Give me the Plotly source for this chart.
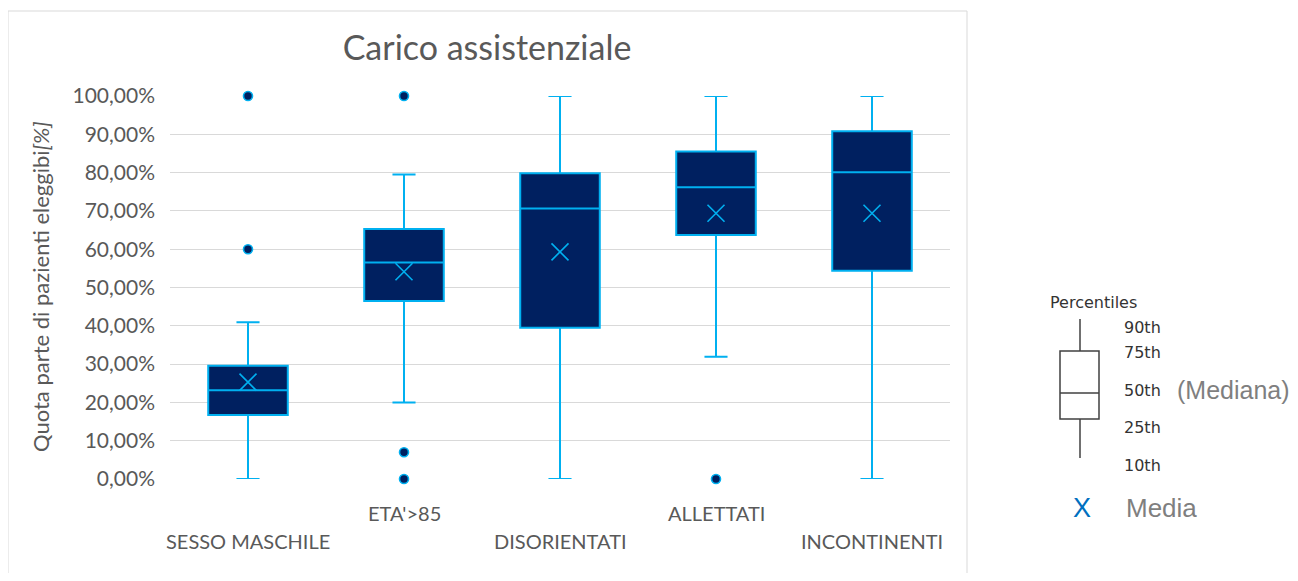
import plotly.graph_objects as go

# ---------------- data ----------------
categories = ["SESSO MASCHILE", "ETA'>85", "DISORIENTATI", "ALLETTATI", "INCONTINENTI"]
q1_vals = [0.167, 0.465, 0.395, 0.637, 0.544]
median_vals = [0.232, 0.565, 0.706, 0.762, 0.801]
q3_vals = [0.296, 0.653, 0.798, 0.855, 0.908]
lower_vals = [0.0, 0.200, 0.0, 0.319, 0.0]
upper_vals = [0.409, 0.795, 1.0, 1.0, 1.0]
mean_vals = [0.253, 0.541, 0.593, 0.694, 0.694]
outlier_cats = ["SESSO MASCHILE", "SESSO MASCHILE", "ETA'>85", "ETA'>85", "ETA'>85", "ALLETTATI"]
outlier_vals = [1.0, 0.60, 1.0, 0.070, 0.0, 0.0]
y_ticks = [0, 0.1, 0.2, 0.3, 0.4, 0.5, 0.6, 0.7, 0.8, 0.9, 1.0]
label_row = [1, 0, 1, 0, 1]  # staggered category labels

NAVY = "#002060"
CYAN = "#00B0F0"
GRAY = "#595959"
FONT = "Lato"

OFF = 8  # page body margin
W, H = 1298 - OFF, 581 - 2 * OFF
# plot area in page pixels
L, R, T, B = 170, 950, 96, 479


def px(x):
    return (x - L) / (R - L)


def py(y):
    return (B - y) / (B - T)


fig = go.Figure()

fig.add_trace(go.Box(
    x=categories,
    q1=q1_vals, median=median_vals, q3=q3_vals,
    lowerfence=lower_vals, upperfence=upper_vals,
    fillcolor=NAVY,
    line=dict(color=CYAN, width=2),
    whiskerwidth=0.29,
    width=0.51,
    boxpoints=False,
    showlegend=False,
    hoverinfo="skip",
))

fig.add_trace(go.Scatter(
    x=categories, y=mean_vals, mode="markers",
    marker=dict(symbol="x-thin", size=17, line=dict(color=CYAN, width=1.6)),
    showlegend=False, cliponaxis=False, hoverinfo="skip",
))

fig.add_trace(go.Scatter(
    x=outlier_cats, y=outlier_vals, mode="markers",
    marker=dict(symbol="circle", size=9, color=NAVY, line=dict(color=CYAN, width=1.6)),
    showlegend=False, cliponaxis=False, hoverinfo="skip",
))

annotations = []
for cat, row in zip(categories, label_row):
    annotations.append(dict(
        x=cat, xref="x", y=py(541 if row else 513), yref="paper",
        text=cat, showarrow=False, yanchor="middle", xanchor="center",
        font=dict(family=FONT, size=20, color=GRAY),
    ))

annotations.append(dict(
    x=px(40), y=py(287), xref="paper", yref="paper",
    text="Quota parte di pazienti eleggibi<i>[%]</i>", textangle=-90,
    showarrow=False, xanchor="center", yanchor="middle",
    font=dict(family=FONT, size=22, color=GRAY),
))

# custom legend (percentile key)
small = dict(family="DejaVu Sans", size=16, color="#333333")
annotations.append(dict(x=px(1093), y=py(302), xref="paper", yref="paper", text="Percentiles",
                        showarrow=False, xanchor="center", yanchor="middle", font=small))
for lab, yy in [("90th", 327), ("75th", 352), ("50th", 390), ("25th", 427), ("10th", 465)]:
    annotations.append(dict(x=px(1122), y=py(yy), xref="paper", yref="paper", text=lab,
                            showarrow=False, xanchor="left", yanchor="middle", font=small))
annotations.append(dict(x=px(1175), y=py(390), xref="paper", yref="paper", text="(Mediana)",
                        showarrow=False, xanchor="left", yanchor="middle",
                        font=dict(family="Liberation Sans", size=25, color="#7F7F7F")))
annotations.append(dict(x=px(1082), y=py(508), xref="paper", yref="paper", text="X",
                        showarrow=False, xanchor="center", yanchor="middle",
                        font=dict(family="Liberation Sans", size=27, color="#0070C0")))
annotations.append(dict(x=px(1124), y=py(508), xref="paper", yref="paper", text="Media",
                        showarrow=False, xanchor="left", yanchor="middle",
                        font=dict(family="Liberation Sans", size=26, color="#7F7F7F")))

shapes = [
    # chart frame
    dict(type="rect", xref="paper", yref="paper", x0=px(8), x1=px(967), y0=py(600), y1=py(11),
         line=dict(color="#D9D9D9", width=1), fillcolor="rgba(0,0,0,0)", layer="below"),
    # legend box icon
    dict(type="line", xref="paper", yref="paper", x0=px(1080), x1=px(1080), y0=py(319), y1=py(351),
         line=dict(color="#404040", width=1.5)),
    dict(type="line", xref="paper", yref="paper", x0=px(1080), x1=px(1080), y0=py(419), y1=py(458),
         line=dict(color="#404040", width=1.5)),
    dict(type="rect", xref="paper", yref="paper", x0=px(1060), x1=px(1099), y0=py(419), y1=py(351),
         line=dict(color="#404040", width=1.5)),
    dict(type="line", xref="paper", yref="paper", x0=px(1060), x1=px(1099), y0=py(393), y1=py(393),
         line=dict(color="#404040", width=1.5)),
]

fig.update_layout(
    width=W, height=H,
    margin=dict(l=L - OFF, r=W - (R - OFF), t=T - OFF, b=H - (B - OFF)),
    paper_bgcolor="white", plot_bgcolor="white",
    separators=",.",
    title=dict(text="Carico assistenziale", x=(487 - OFF) / W, xref="container", xanchor="center",
               y=1 - (48 - OFF) / H, yref="container", yanchor="middle",
               font=dict(family=FONT, size=34, color=GRAY)),
    xaxis=dict(type="category", range=[-0.5, 4.5], showticklabels=False, showgrid=False,
               zeroline=False, showline=False, fixedrange=True),
    yaxis=dict(range=[0, 1.0], tickvals=y_ticks, tickformat=".2%", showgrid=True,
               gridcolor="#D9D9D9", gridwidth=1, zeroline=False, showline=False,
               ticks="", ticklabelstandoff=14,
               tickfont=dict(family=FONT, size=21, color=GRAY)),
    annotations=annotations,
    shapes=shapes,
    showlegend=False,
)

fig.write_html("out.html")
